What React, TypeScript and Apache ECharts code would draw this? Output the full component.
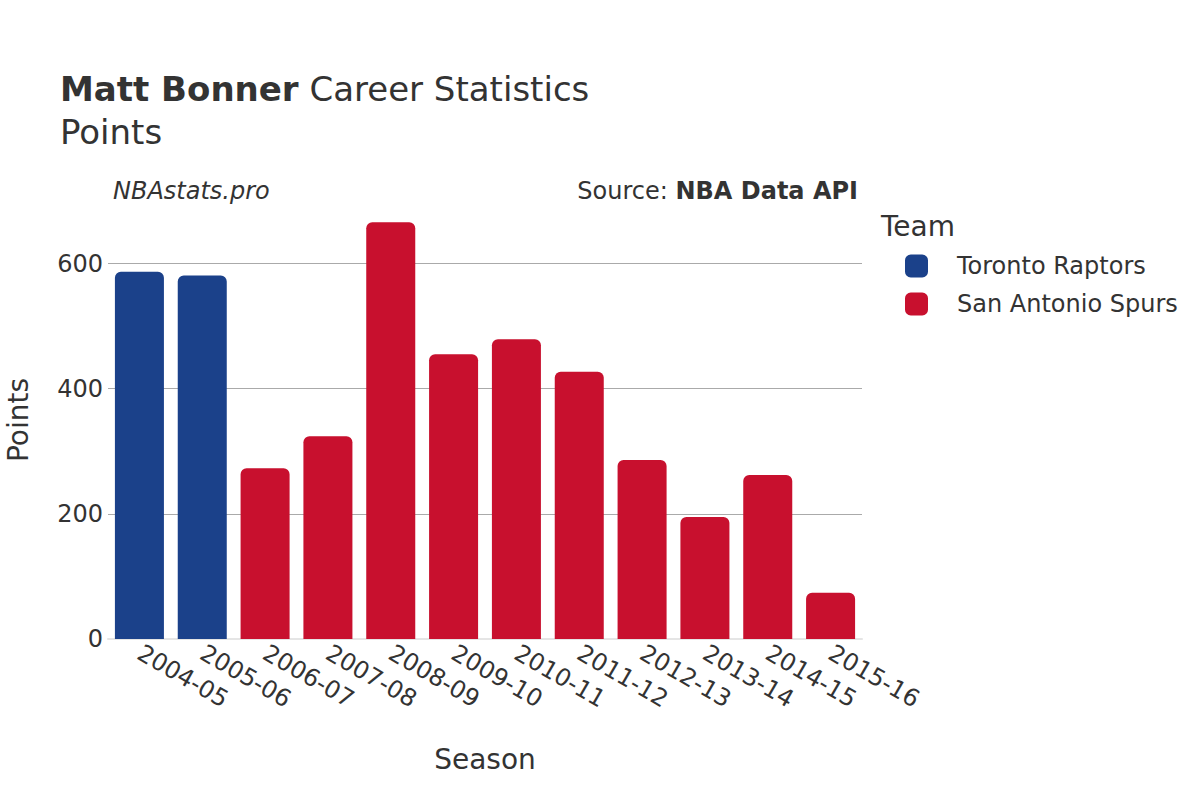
import React, { useEffect, useRef } from "react";
import * as echarts from "echarts";

const seasons = ["2004-05", "2005-06", "2006-07", "2007-08", "2008-09", "2009-10", "2010-11", "2011-12", "2012-13", "2013-14", "2014-15", "2015-16"];
const raptors = [587, 581, null, null, null, null, null, null, null, null, null, null];
const spurs = [null, null, 273, 324, 666, 455, 479, 427, 286, 195, 262, 74];
const yTicks = [0, 200, 400, 600];

const FONT = "DejaVu Sans";
const BLUE = "#1b418a";
const RED = "#c8102e";
const TXT = "#333";

export default function App() {
  const ref = useRef<HTMLDivElement>(null);
  useEffect(() => {
    const chart = echarts.init(ref.current!, null, { renderer: "svg" });
    chart.setOption({
      animation: false,
      textStyle: { fontFamily: FONT },
      title: [
        {
          text: "{b|Matt Bonner} {n|Career Statistics}\n{n|Points}",
          left: 60,
          top: 67,
          padding: 0,
          textStyle: {
            fontWeight: "normal",
            fontFamily: FONT,
            fontSize: 34,
            lineHeight: 43,
            rich: {
              b: { fontFamily: FONT, fontSize: 34, fontWeight: "bold", color: TXT, lineHeight: 43 },
              n: { fontFamily: FONT, fontSize: 34, fontWeight: "normal", color: TXT, lineHeight: 43 },
            },
          },
        },
        {
          text: "NBAstats.pro",
          left: 113,
          top: 179,
          padding: 0,
          textStyle: { fontFamily: FONT, fontSize: 24, fontStyle: "italic", fontWeight: "normal", color: TXT },
        },
        {
          text: "Source: {b|NBA Data API}",
          right: 342,
          top: 179,
          padding: 0,
          textStyle: {
            fontFamily: FONT, fontSize: 24, fontWeight: "normal", color: TXT,
            rich: { b: { fontFamily: FONT, fontSize: 24, fontWeight: "bold", color: TXT } },
          },
        },
        {
          text: "Team",
          left: 881,
          top: 212,
          padding: 0,
          textStyle: { fontFamily: FONT, fontSize: 28, fontWeight: "normal", color: TXT },
        },
      ],
      legend: {
        orient: "vertical",
        left: 905,
        top: 254,
        padding: 0,
        itemWidth: 23,
        itemHeight: 23,
        itemGap: 14,
        icon: "roundRect",
        textStyle: { fontFamily: FONT, fontSize: 24, color: TXT, padding: [0, 0, 0, 24] },
        data: ["Toronto Raptors", "San Antonio Spurs"],
      },
      grid: { left: 108, right: 338, top: 201, bottom: 161, containLabel: false, outerBoundsMode: "none" },
      xAxis: {
        type: "category",
        data: seasons,
        name: "Season",
        nameLocation: "middle",
        nameGap: 106,
        nameTextStyle: { fontFamily: FONT, fontSize: 28, color: TXT },
        axisLine: { show: true, lineStyle: { color: "#e5e5e5", width: 2 } },
        axisTick: { show: false },
        axisLabel: { rotate: -30, fontFamily: FONT, fontSize: 24, color: TXT, margin: 12, interval: 0 },
      },
      yAxis: {
        type: "value",
        min: yTicks[0],
        max: 700,
        interval: 200,
        name: "Points",
        nameLocation: "middle",
        nameGap: 76,
        nameTextStyle: { fontFamily: FONT, fontSize: 28, color: TXT },
        axisLine: { show: false },
        axisTick: { show: false },
        axisLabel: {
          fontFamily: FONT, fontSize: 24, color: TXT, margin: 5, showMaxLabel: false,
          formatter: (v: number) => (yTicks.includes(v) ? String(v) : ""),
        },
        splitLine: { show: true, showMinLine: false, showMaxLine: false, lineStyle: { color: "#aaa", width: 1 } },
      },
      series: [
        {
          name: "Toronto Raptors",
          type: "bar",
          stack: "t",
          data: raptors,
          barCategoryGap: "22%",
          itemStyle: { color: BLUE, borderRadius: [6, 6, 0, 0] },
        },
        {
          name: "San Antonio Spurs",
          type: "bar",
          stack: "t",
          data: spurs,
          barCategoryGap: "22%",
          itemStyle: { color: RED, borderRadius: [6, 6, 0, 0] },
        },
      ],
    });
    return () => chart.dispose();
  }, []);
  return <div ref={ref} style={{ width: 1200, height: 800, position: "absolute", left: 0, top: 0 }} />;
}
